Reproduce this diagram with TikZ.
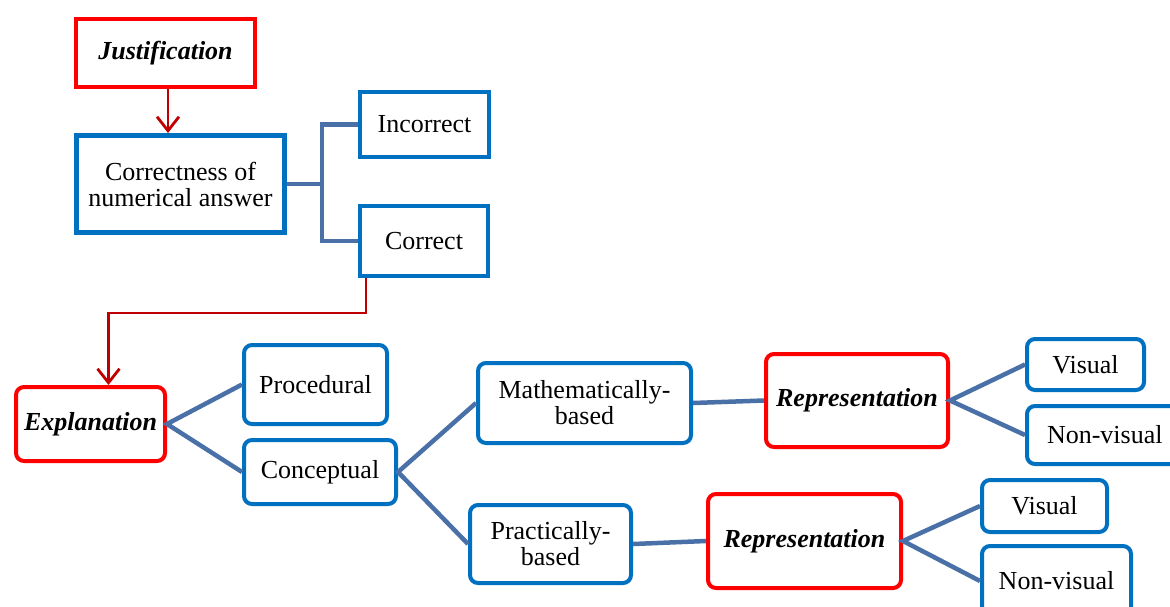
\documentclass[tikz,border=0pt]{standalone}
\usepackage{fontspec}
\setmainfont{Liberation Serif}
\usetikzlibrary{arrows.meta}
\definecolor{bluebox}{HTML}{0070C0}
\definecolor{redbox}{HTML}{FF0000}
\definecolor{conn}{HTML}{4A70A8}
\definecolor{darkred}{HTML}{C00000}
\tikzset{
  base/.style={draw, fill=white, align=center, inner sep=0pt,
    font=\fontsize{26}{26}\selectfont},
  bluebox/.style={base, draw=bluebox, line width=4pt},
  redkey/.style={base, draw=redbox, line width=4pt, font=\fontsize{26}{26}\selectfont\bfseries\itshape},
  rnd/.style={rounded corners=8pt},
  link/.style={draw=conn, line width=4.5pt},
  redarrow/.style={draw=darkred, line width=2.8pt, -{Straight Barb[length=14pt,width=22pt,line width=2.8pt]}},
}
\begin{document}
\begin{tikzpicture}[x=1pt,y=-1pt]
\clip (0,0) rectangle (1170,606);
\fill[white] (0,0) rectangle (1170,606);

\node[redkey, minimum width=179pt, minimum height=68pt] (just) at (165.5,53) {Justification};
\node[bluebox, line width=5pt, minimum width=208pt, minimum height=97pt] (corr) at (180.5,184) {Correctness of\\numerical answer};
\node[bluebox, minimum width=129pt, minimum height=65pt] (inc) at (424.5,124.5) {Incorrect};
\node[bluebox, minimum width=128pt, minimum height=70pt] (cor) at (424,241) {Correct};

\node[redkey, rnd, minimum width=149pt, minimum height=74pt] (expl) at (90.5,424) {Explanation};
\node[bluebox, rnd, minimum width=143pt, minimum height=79pt] (proc) at (315.5,384.5) {Procedural};
\node[bluebox, rnd, minimum width=152pt, minimum height=64pt] (conc) at (320,472) {Conceptual};
\node[bluebox, rnd, minimum width=213pt, minimum height=80pt] (math) at (584.5,403) {Mathematically-\\based};
\node[bluebox, rnd, minimum width=161pt, minimum height=78pt] (prac) at (550.5,544) {Practically-\\based};
\node[redkey, rnd, minimum width=182pt, minimum height=93pt] (rep1) at (857,400.5) {Representation};
\node[redkey, rnd, minimum width=193pt, minimum height=94pt] (rep2) at (804.5,541) {Representation};
\node[bluebox, rnd, minimum width=117pt, minimum height=51pt] (vis1) at (1085.5,364.5) {Visual};
\node[bluebox, rnd, minimum width=160pt, minimum height=58pt, text width=150pt, align=left] (non1) at (1107,435) {\hspace*{15pt}Non-visual};
\node[bluebox, rnd, minimum width=125pt, minimum height=52pt] (vis2) at (1044.5,506) {Visual};
\node[bluebox, rnd, minimum width=149pt, minimum height=70pt] (non2) at (1056.5,581) {Non-visual};

% connectors
\coordinate (jx) at (168,0);
\draw[redarrow] (just.south -| jx) -- (corr.north -| jx);
\coordinate (tx) at (322,0);
\draw[link] (corr.east) -- (corr.east -| tx);
\draw[link, line cap=butt] (inc.west) -| (cor.west -| tx) -- (cor.west);
\draw[redarrow] ([xshift=8pt]cor.south west) -- (366,313) -| ([xshift=18pt]expl.north);

\draw[link] (proc.west) -- (expl.east) -- (conc.west);
\draw[link] (math.west) -- (conc.east) -- (prac.west);
\draw[link] (math.east) -- (rep1.west);
\draw[link] (prac.east) -- (rep2.west);
\draw[link] (vis1.west) -- (rep1.east) -- (non1.west);
\draw[link] (vis2.west) -- (rep2.east) -- (non2.west);
\end{tikzpicture}
\end{document}
